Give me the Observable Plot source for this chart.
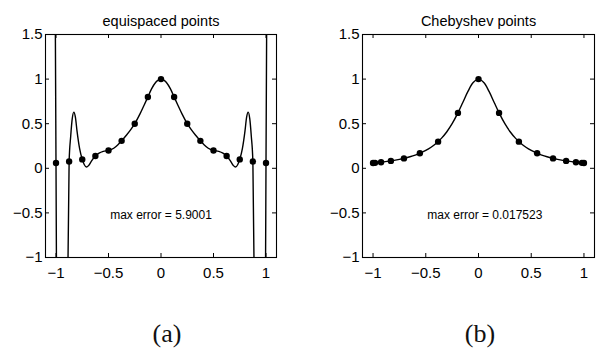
<!DOCTYPE html>
<html><head><meta charset="utf-8">
<script src="https://cdn.jsdelivr.net/npm/d3@7"></script>
<script src="https://cdn.jsdelivr.net/npm/@observablehq/plot@0.6"></script>
<style>
body{margin:0;background:#fff;width:597px;height:351px;position:relative;overflow:hidden}
.panel{position:absolute;top:0}
.lab{position:absolute;font-family:"Liberation Serif","Times New Roman",serif;font-size:26px;transform:translate(-50%,-50%);color:#111;line-height:1}
</style></head><body>
<div id="a" class="panel" style="left:0"></div>
<div id="b" class="panel" style="left:317px"></div>
<div class="lab" style="left:167px;top:334px">(a)</div>
<div class="lab" style="left:480px;top:334px">(b)</div>
<script>
// tick values
const xTicks = [-1, -0.5, 0, 0.5, 1];
const yTicks = [-1, -0.5, 0, 0.5, 1, 1.5];

// panel titles / annotations
const titles = ["equispaced points", "Chebyshev points"];
const notes = ["max error = 5.9001", "max error = 0.017523"];
const noteX = [0, 0.06];
const noteY = [-0.52, -0.52];

// (a) equispaced nodes
const eqDotX = [-1, -0.875, -0.75, -0.625, -0.5, -0.375, -0.25, -0.125, 0, 0.125, 0.25, 0.375, 0.5, 0.625, 0.75, 0.875, 1];
const eqDotY = [0.059, 0.076, 0.100, 0.138, 0.200, 0.308, 0.500, 0.800, 1.000, 0.800, 0.500, 0.308, 0.200, 0.138, 0.100, 0.076, 0.059];

// (a) interpolant
const eqCurveX = [-1.1, -1.05, -1.02, -1.0, -0.99, -0.97, -0.94, -0.91, -0.89, -0.875, -0.86, -0.845, -0.83, -0.815, -0.8, -0.775, -0.75, -0.73, -0.71, -0.69, -0.665, -0.645, -0.625, -0.59, -0.55, -0.5, -0.45, -0.41, -0.375, -0.33, -0.29, -0.25, -0.2, -0.16, -0.125, -0.09, -0.05, -0.02, 0,
  0.02, 0.05, 0.09, 0.125, 0.16, 0.2, 0.25, 0.29, 0.33, 0.375, 0.41, 0.45, 0.5, 0.55, 0.59, 0.625, 0.645, 0.665, 0.69, 0.71, 0.73, 0.75, 0.775, 0.8, 0.815, 0.83, 0.845, 0.86, 0.875, 0.89, 0.91, 0.94, 0.97, 0.99, 1.0, 1.02, 1.05, 1.1];
const eqCurveY = [300, 30, 6, 0.059, -2.5, -4.8, -5.85, -4.2, -1.6, 0.076, 0.36, 0.56, 0.63, 0.57, 0.42, 0.22, 0.10, 0.04, 0.015, 0.03, 0.075, 0.11, 0.138, 0.17, 0.19, 0.20, 0.225, 0.265, 0.308, 0.37, 0.43, 0.50, 0.61, 0.71, 0.80, 0.89, 0.965, 0.995, 1.0,
  0.995, 0.965, 0.89, 0.80, 0.71, 0.61, 0.50, 0.43, 0.37, 0.308, 0.265, 0.225, 0.20, 0.19, 0.17, 0.138, 0.11, 0.075, 0.03, 0.015, 0.04, 0.10, 0.22, 0.42, 0.57, 0.63, 0.56, 0.36, 0.076, -1.6, -4.2, -5.85, -4.8, -2.5, 0.059, 6, 30, 300];

// (b) Chebyshev nodes
const chDotX = [-1, -0.981, -0.924, -0.831, -0.707, -0.556, -0.383, -0.195, 0, 0.195, 0.383, 0.556, 0.707, 0.831, 0.924, 0.981, 1];
const chDotY = [0.059, 0.061, 0.068, 0.083, 0.111, 0.168, 0.299, 0.621, 1.000, 0.621, 0.299, 0.168, 0.111, 0.083, 0.068, 0.061, 0.059];

// (b) interpolant
const chCurveX = [-1, -0.95, -0.9, -0.85, -0.8, -0.75, -0.7, -0.65, -0.6, -0.55, -0.5, -0.45, -0.4, -0.35, -0.3, -0.25, -0.2, -0.15, -0.1, -0.05, 0,
  0.05, 0.1, 0.15, 0.2, 0.25, 0.3, 0.35, 0.4, 0.45, 0.5, 0.55, 0.6, 0.65, 0.7, 0.75, 0.8, 0.85, 0.9, 0.95, 1];
const chCurveY = [0.059, 0.065, 0.072, 0.080, 0.089, 0.100, 0.113, 0.129, 0.148, 0.171, 0.200, 0.236, 0.281, 0.338, 0.410, 0.500, 0.610, 0.735, 0.862, 0.962, 1.000,
  0.962, 0.862, 0.735, 0.610, 0.500, 0.410, 0.338, 0.281, 0.236, 0.200, 0.171, 0.148, 0.129, 0.113, 0.100, 0.089, 0.080, 0.072, 0.065, 0.059];

const fmt = d => (d < 0 ? "\u2212" : "") + String(Math.abs(d));

function panel({width, marginRight, title, cx, cy, curveType, dx, dy, note, nx, ny}) {
  const H = 285, mT = 34, mB = 28, mL = 45;
  const fw = width - mL - marginRight, fh = H - mT - mB;
  const curve = cx.map((x, i) => ({x, y: cy[i]}));
  const dots = dx.map((x, i) => ({x, y: dy[i]}));
  return Plot.plot({
    width, height: H, marginLeft: mL, marginRight, marginTop: mT, marginBottom: mB,
    style: {fontFamily: '"Liberation Sans", Arial, sans-serif', fontSize: "13px", color: "#000", background: "#fff", overflow: "visible"},
    x: {domain: [-1.1, 1.1], label: null},
    y: {domain: [-1, 1.5], label: null},
    marks: [
      Plot.line(curve, {x: "x", y: "y", curve: curveType, clip: true, stroke: "#000", strokeWidth: 1.4}),
      Plot.dot(dots, {x: "x", y: "y", r: 3.2, fill: "#000", stroke: "none"}),
      Plot.frame({stroke: "#000", strokeWidth: 1.1}),
      Plot.tickX(xTicks, {x: d => d, insetTop: fh - 4, stroke: "#000"}),
      Plot.tickX(xTicks, {x: d => d, insetBottom: fh - 4, stroke: "#000"}),
      Plot.tickY(yTicks, {y: d => d, insetRight: fw - 4, stroke: "#000"}),
      Plot.tickY(yTicks, {y: d => d, insetLeft: fw - 4, stroke: "#000"}),
      Plot.axisX(xTicks, {tickSize: 0, tickPadding: 10, fontSize: 15, tickFormat: fmt, fill: "#000"}),
      Plot.axisY(yTicks, {tickSize: 0, tickPadding: 3, fontSize: 15, tickFormat: fmt, fill: "#000"}),
      Plot.text([title], {frameAnchor: "top", dy: -19, fontSize: 14.5, fill: "#000"}),
      Plot.text([{x: nx, y: ny, t: note}], {x: "x", y: "y", text: "t", fontSize: 12, fill: "#000"})
    ]
  });
}

document.getElementById("a").append(panel({
  width: 290, marginRight: 14, title: titles[0], cx: eqCurveX, cy: eqCurveY, curveType: "monotone-x",
  dx: eqDotX, dy: eqDotY, note: notes[0], nx: noteX[0], ny: noteY[0]
}));
document.getElementById("b").append(panel({
  width: 280, marginRight: 3, title: titles[1], cx: chCurveX, cy: chCurveY, curveType: "catmull-rom",
  dx: chDotX, dy: chDotY, note: notes[1], nx: noteX[1], ny: noteY[1]
}));
</script>
</body></html>
